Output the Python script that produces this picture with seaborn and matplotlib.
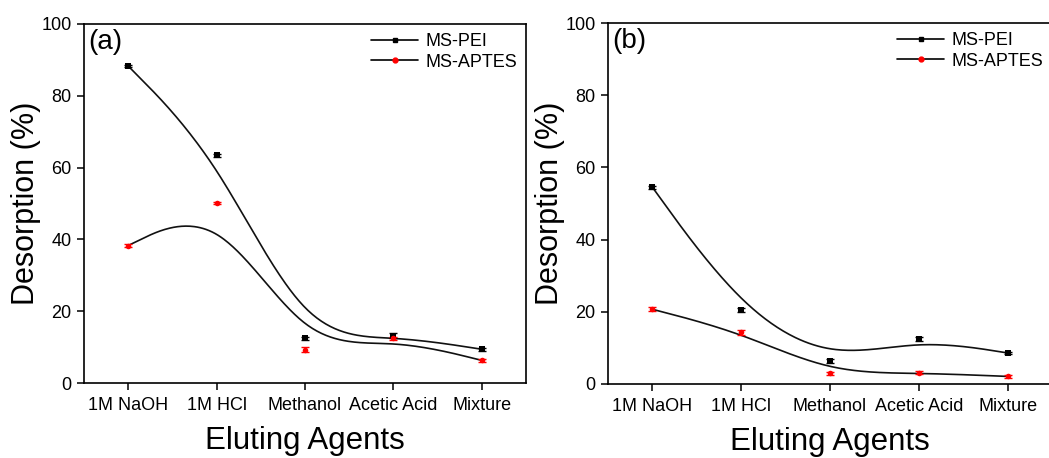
import numpy as np
import pandas as pd
import matplotlib
matplotlib.use("Agg")
import matplotlib.pyplot as plt
from matplotlib.lines import Line2D
import seaborn as sns

agents = ["1M NaOH", "1M HCl", "Methanol", "Acetic Acid", "Mixture"]
series_names = ["MS-PEI", "MS-APTES"]

pei_a = [88.3, 63.4, 12.4, 13.2, 9.4]
aptes_a = [38.3, 50.2, 9.3, 12.4, 6.3]
pei_a_err = [0.4, 0.5, 0.5, 0.8, 0.4]
aptes_a_err = [0.4, 0.3, 0.6, 0.5, 0.4]

pei_b = [54.5, 20.5, 6.4, 12.5, 8.6]
aptes_b = [20.7, 14.3, 3.0, 3.1, 2.1]
pei_b_err = [0.4, 0.5, 0.5, 0.5, 0.4]
aptes_b_err = [0.5, 0.7, 0.4, 0.4, 0.3]

yticks = [0, 20, 40, 60, 80, 100]
panel_labels = ["(a)", "(b)"]


def bspline(xs, ys, n=60):
    """Uniform cubic B-spline with tripled end control points."""
    P = np.column_stack([np.asarray(xs, float), np.asarray(ys, float)])
    P = np.vstack([P[0], P[0], P, P[-1], P[-1]])
    s = np.linspace(0, 1, n)
    b0 = (1 - s) ** 3 / 6
    b1 = (3 * s ** 3 - 6 * s ** 2 + 4) / 6
    b2 = (-3 * s ** 3 + 3 * s ** 2 + 3 * s + 1) / 6
    b3 = s ** 3 / 6
    pts = []
    for i in range(len(P) - 3):
        seg = (np.outer(b0, P[i]) + np.outer(b1, P[i + 1])
               + np.outer(b2, P[i + 2]) + np.outer(b3, P[i + 3]))
        pts.append(seg if i == 0 else seg[1:])
    pts = np.vstack(pts)
    return pts[:, 0], pts[:, 1]


sns.set_theme(style="ticks")
plt.rcParams["font.family"] = ["Liberation Sans", "DejaVu Sans"]
plt.rcParams["text.color"] = "black"
plt.rcParams["axes.labelcolor"] = "black"
plt.rcParams["xtick.color"] = "black"
plt.rcParams["ytick.color"] = "black"

fig = plt.figure(figsize=(10.49, 4.58), dpi=100)
ax_a = fig.add_axes([84 / 1049, 1 - 383 / 458, (526 - 84) / 1049, (383 - 24) / 458])
ax_b = fig.add_axes([608 / 1049, 1 - 384 / 458, (1052 - 608) / 1049, (384 - 23) / 458])

panels = [
    (ax_a, pei_a, aptes_a, pei_a_err, aptes_a_err, panel_labels[0]),
    (ax_b, pei_b, aptes_b, pei_b_err, aptes_b_err, panel_labels[1]),
]

xpos = np.arange(len(agents))
for ax, pei, aptes, pe, ae, lab in panels:
    for vals, errs, color, marker, name in [
        (pei, pe, "black", "s", series_names[0]),
        (aptes, ae, "red", "o", series_names[1]),
    ]:
        sx, sy = bspline(xpos, vals)
        sns.lineplot(x=sx, y=sy, ax=ax, color="#111111", lw=1.2, sort=False, estimator=None)
        ax.errorbar(xpos, vals, yerr=errs, fmt="none", ecolor=color, elinewidth=1.0,
                    capsize=3, capthick=1.0, zorder=3)
        df = pd.DataFrame({"x": xpos, "y": vals})
        sns.scatterplot(data=df, x="x", y="y", ax=ax, color=color, marker=marker,
                        s=16, edgecolor=color, linewidth=0, zorder=4)
    ax.set_xlim(-0.5, 4.5)
    ax.set_ylim(0, 100)
    ax.set_xticks(xpos)
    ax.set_xticklabels(agents)
    ax.set_yticks(yticks)
    ax.tick_params(axis="both", direction="out", length=5, width=1.1, labelsize=13,
                   colors="black", pad=4)
    ax.tick_params(axis="x", pad=5)
    for sp in ax.spines.values():
        sp.set_visible(True)
        sp.set_linewidth(1.2)
        sp.set_color("black")
    ax.set_xlabel("Eluting Agents", fontsize=22.5, labelpad=9, color="black")
    ax.set_ylabel("Desorption (%)", fontsize=22, labelpad=0, color="black")
    ax.text(0.01, 0.985, lab, transform=ax.transAxes, ha="left", va="top", fontsize=20,
            color="black")
    handles = [
        Line2D([0], [0], color="black", lw=1.2, marker="s", markersize=3.5,
               markerfacecolor="black", markeredgecolor="black"),
        Line2D([0], [0], color="black", lw=1.2, marker="o", markersize=3.5,
               markerfacecolor="red", markeredgecolor="red"),
    ]
    leg = ax.legend(handles, series_names, loc="upper right", bbox_to_anchor=(1.0, 1.0),
                    frameon=False, fontsize=13, handlelength=2.6, handletextpad=0.4,
                    labelspacing=0.2, borderaxespad=0.1)
    for t in leg.get_texts():
        t.set_color("black")

fig.savefig("out.png", dpi=100)
